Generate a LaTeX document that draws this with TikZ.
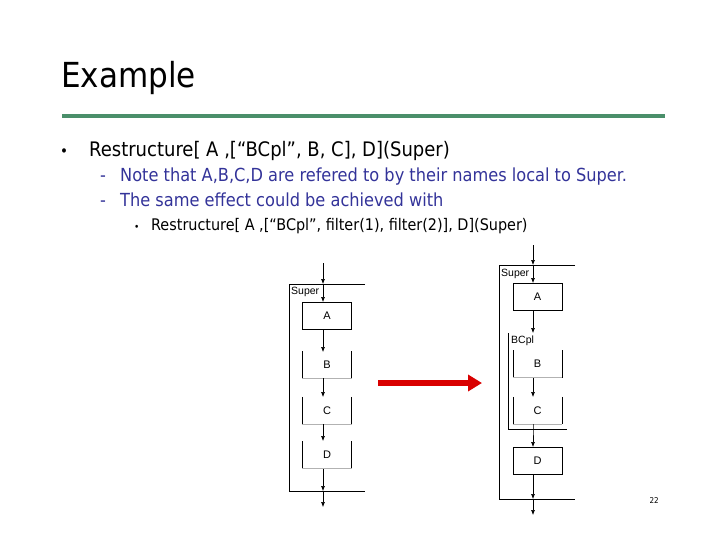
\documentclass[tikz,border=0pt]{standalone}
\usepackage{fontspec}
\setmainfont{DejaVu Sans Condensed}
\setsansfont{Liberation Sans}
\usetikzlibrary{arrows.meta}
\definecolor{navy}{HTML}{333399}
\definecolor{rulegreen}{HTML}{4A8F6A}
\begin{document}
\begin{tikzpicture}[x=1pt,y=-1pt,
  ar/.style={-{Latex[length=5pt,width=4pt]},line width=0.6pt},
  ln/.style={line width=0.6pt},
  box/.style={draw,line width=0.6pt,minimum width=49pt,minimum height=27pt,font=\sffamily\fontsize{11}{11}\selectfont,inner sep=0},
  obox/.style={minimum width=49pt,minimum height=27pt,font=\sffamily\fontsize{11}{11}\selectfont,inner sep=0},
  lab/.style={font=\sffamily\fontsize{10.5}{10.5}\selectfont,inner sep=0,anchor=north west}]
\useasboundingbox (0,0) rectangle (720,540);
\node[anchor=base west,inner sep=0,font=\fontsize{34.5}{34.5}\selectfont] (title) at (61,88) {Example};
\draw[rulegreen,line width=4pt] (62,116) -- (665,116);
\node[anchor=base west,inner sep=0,font=\fontsize{15}{15}\selectfont] (b1) at (60,157) {•};
\node[anchor=base west,inner sep=0,font=\fontsize{20}{20}\selectfont] (t1) at (89,157) {Restructure[ A ,[“BCpl”, B, C], D](Super)};
\node[anchor=base west,inner sep=0,font=\fontsize{18}{18}\selectfont,text=navy] (d1) at (100,182) {-};
\node[anchor=base west,inner sep=0,font=\fontsize{18}{18}\selectfont,text=navy] (t2) at (120,182) {Note that A,B,C,D are refered to by their names local to Super.};
\node[anchor=base west,inner sep=0,font=\fontsize{18}{18}\selectfont,text=navy] (d2) at (100,207) {-};
\node[anchor=base west,inner sep=0,font=\fontsize{18}{18}\selectfont,text=navy] (t3) at (120,207) {The same effect could be achieved with};
\node[anchor=base west,inner sep=0,font=\fontsize{10}{10}\selectfont] (b3) at (134,230) {•};
\node[anchor=base west,inner sep=0,font=\fontsize{16}{16}\selectfont] (t4) at (151,230) {Restructure[ A ,[“BCpl”, filter(1), filter(2)], D](Super)};
% left diagram
\draw[ln] (365,284) -- (289,284) -- (289,491) -- (365,491);
\node[lab] (ls) at (291,287) {Super};
\node[box] (la) at (327,315.5) {A};
\node[obox] (lb) at (327,365) {B};
\node[obox] (lc) at (327,410.5) {C};
\node[obox] (ld) at (327,455) {D};
\foreach \n in {lb,lc,ld}{
  \draw[ln] (\n.north west) -- (\n.south west);
  \draw[ln] (\n.north east) -- (\n.south east);
  \draw[gray!60,line width=0.6pt] (\n.south west) -- (\n.south east);}
\coordinate (lt) at (323,263);
\coordinate (lt2) at (323,284);
\coordinate (lbt) at (323,491);
\coordinate (lbe) at (323,507);
\draw[ar] (lt) -- (lt2);
\draw[ar] (lt2) -- (323,302);
\draw[ar] (323,329) -- (323,352);
\draw[ar] (323,378) -- (323,397);
\draw[ar] (323,424) -- (323,441);
\draw[ar] (323,469) -- (lbt);
\draw[ar] (lbt) -- (lbe);
% red arrow
\coordinate (r1) at (378,383);
\coordinate (r2) at (482,383);
\draw[red!85!black,line width=6pt,-{Triangle[length=14pt,width=16pt]}] (r1) -- (r2);
% right diagram
\draw[ln] (575,265) -- (499,265) -- (499,499) -- (575,499);
\node[lab] (rs) at (501,269) {Super};
\node[box] (ra) at (537.5,297) {A};
\draw[ln] (508,333) -- (508,429) -- (567,429);
\node[lab] (bc) at (511,336) {BCpl};
\node[obox] (rb) at (537.5,364) {B};
\node[obox] (rc) at (537.5,410.5) {C};
\foreach \n in {rb,rc}{
  \draw[ln] (\n.north west) -- (\n.south west);
  \draw[ln] (\n.north east) -- (\n.south east);
  \draw[gray!60,line width=0.6pt] (\n.south west) -- (\n.south east);}
\node[box] (rd) at (537.5,460.5) {D};
\draw[ar] (533,245) -- (533,265);
\draw[ar] (533,265) -- (533,283);
\draw[ar] (533,311) -- (533,333);
\draw[ar] (533,378) -- (533,397);
\draw[ar] (533,424) -- (533,429) -- (533,447);
\draw[ar] (533,474) -- (533,499);
\draw[ar] (533,499) -- (533,515);
\node[anchor=base east,inner sep=0,font=\fontsize{8}{8}\selectfont] (pg) at (659,503) {22};
\end{tikzpicture}
\end{document}
